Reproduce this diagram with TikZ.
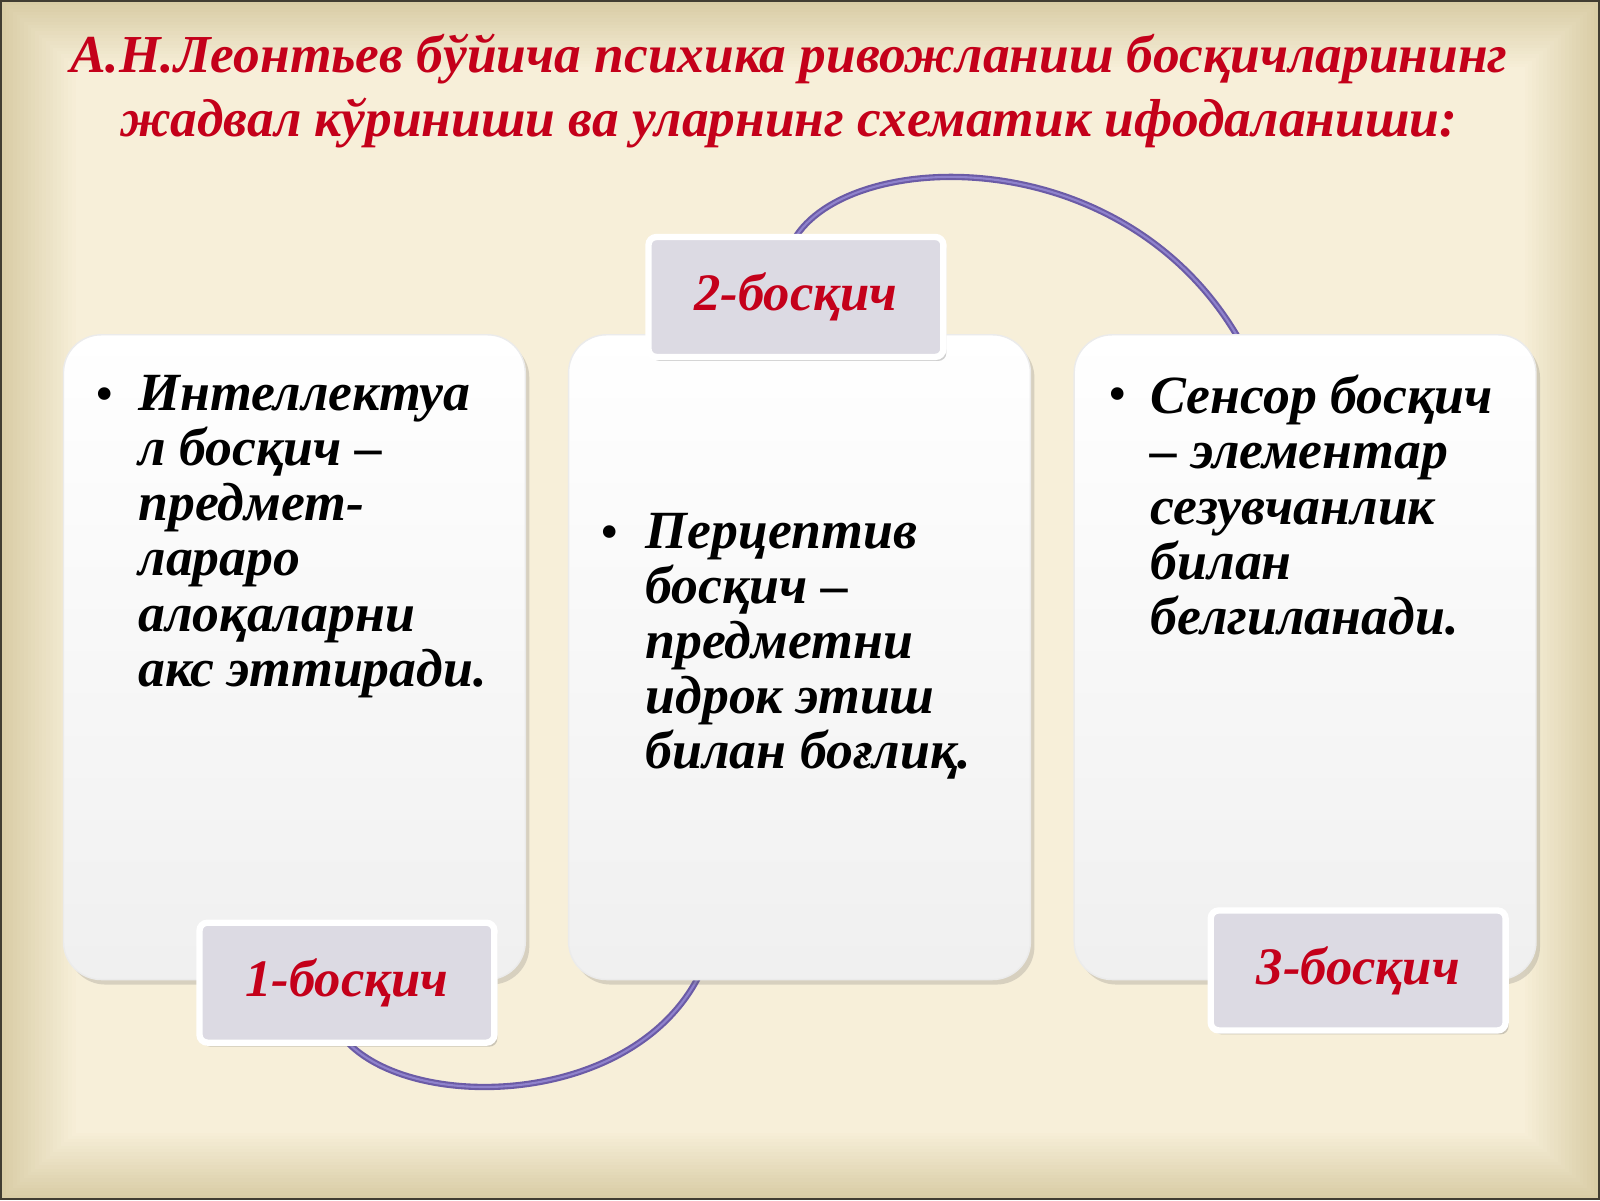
\documentclass[tikz,border=0pt]{standalone}
\usepackage{fontspec}
\setmainfont{Liberation Serif}
\usetikzlibrary{shadows}
\definecolor{bgc}{HTML}{F7EFD9}
\definecolor{bge}{HTML}{D9CDA6}
\definecolor{titlered}{HTML}{C4001A}
\definecolor{lblfill}{HTML}{DCDAE3}
\definecolor{curve}{HTML}{6B5BA6}
\definecolor{curvehi}{HTML}{8F82CC}
\tikzset{
  bigbox/.style={rounded corners=0.38cm, minimum width=4.62cm, minimum height=6.45cm,
    top color=white, bottom color=black!6, draw=black!8, line width=0.4pt,
    drop shadow={shadow xshift=0.04cm, shadow yshift=-0.05cm, opacity=0.22, fill=black!60}},
  lbl/.style={rounded corners=0.08cm, minimum width=2.95cm, minimum height=1.2cm,
    fill=lblfill, draw=white, line width=1.8pt,
    drop shadow={shadow xshift=0.03cm, shadow yshift=-0.04cm, opacity=0.3, fill=black!60},
    font=\fontsize{15pt}{17pt}\selectfont\bfseries\itshape, text=titlered},
  boxtext/.style={anchor=north west, inner sep=0pt, align=left,
    font=\fontsize{15.3pt}{15.7pt}\selectfont\bfseries\itshape, text=black},
  bullet/.style={inner sep=0pt, font=\fontsize{15pt}{15pt}\selectfont, text=black},
  arcline/.style={draw=curve, line width=1.8pt, line cap=round},
  archi/.style={draw=curvehi, line width=0.6pt, line cap=round},
}
\begin{document}
\begin{tikzpicture}[x=0.0102041cm, y=-0.0102041cm]
\useasboundingbox (0,0) rectangle (1568,1176);
% background with vignette
\fill[black!70!bge] (0,0) rectangle (1568,1176);
\foreach \i in {0,...,20}{
  \pgfmathsetmacro{\pc}{100-\i*5}
  \fill[bge!\pc!bgc] (2+\i*3.6,2+\i*3.2) rectangle (1566-\i*3.6,1174-\i*3.2);
}
% title
\node[align=center, text=titlered, font=\fontsize{15.2pt}{18.3pt}\selectfont\bfseries\itshape] (title) at (773,89)
  {А.Н.Леонтьев бўйича психика ривожланиш босқичларининг\\жадвал кўриниши ва уларнинг схематик ифодаланиши:};
% connector arcs (behind)
\coordinate (c2) at (778,235);
\coordinate (c3) at (1214,332);
\coordinate (c1) at (335,1015);
\coordinate (c4) at (688,950);
\draw[arcline] (c2) .. controls (830,145) and (1100,135) .. (c3);
\draw[archi] (c2) .. controls (830,145) and (1100,135) .. (c3);
\draw[arcline] (c1) .. controls (395,1092) and (625,1088) .. (c4);
\draw[archi] (c1) .. controls (395,1092) and (625,1088) .. (c4);
% big boxes
\node[bigbox] (b1) at (288.5,644) {};
\node[bigbox] (b2) at (783.5,644) {};
\node[bigbox] (b3) at (1279,644) {};
% box texts
\node[bullet] (u1) at (103,392) {•};
\node[boxtext] (t1) at (135,367) {Интеллектуа\\л босқич –\\предмет-\\лараро\\алоқаларни\\акс эттиради.};
\node[bullet] (u2) at (598,527) {•};
\node[boxtext] (t2) at (632,502) {Перцептив\\босқич –\\предметни\\идрок этиш\\билан боғлиқ.};
\node[bullet] (u3) at (1095,392) {•};
\node[boxtext] (t3) at (1127,367) {Сенсор босқич\\– элементар\\сезувчанлик\\билан\\белгиланади.};
% labels
\node[lbl] (l2) at (780,291) {2-босқич};
\node[lbl] (l1) at (340,963) {1-босқич};
\node[lbl] (l3) at (1331,951) {3-босқич};
\end{tikzpicture}
\end{document}
